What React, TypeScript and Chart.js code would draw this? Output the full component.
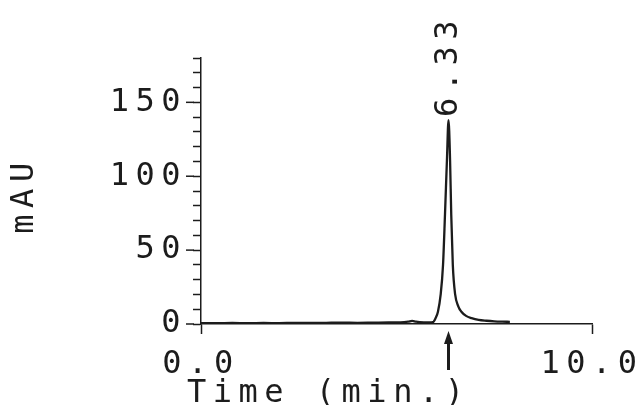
import React, { useEffect, useRef } from 'react';
import { Chart, registerables } from 'chart.js';

Chart.register(...registerables);

// Retention time (min.) and detector signal (mAU)
const times = [
  0.0, 0.4, 0.8, 1.2, 1.6, 2.0, 2.4, 2.8, 3.2, 3.6, 4.0, 4.4, 4.8, 5.1, 5.3, 5.4, 5.5,
  5.7, 5.85, 5.93, 6.0, 6.06, 6.13, 6.19, 6.24, 6.29, 6.33, 6.37, 6.4, 6.44, 6.5, 6.58,
  6.66, 6.78, 6.92, 7.1, 7.3, 7.5, 7.7, 7.9,
];
const signal = [
  0.6, 0.5, 0.7, 0.6, 0.7, 0.6, 0.8, 0.7, 0.8, 0.9, 0.8, 0.9, 1.0, 1.1, 1.6, 2.1, 1.6,
  1.1, 1.0, 1.2, 4.0, 8.3, 20, 40, 74, 111, 138, 111, 74, 40, 20, 12,
  8.3, 5.5, 4.0, 2.8, 2.2, 1.8, 1.6, 1.5,
];
const peakTime = 6.33;
const xTickValues = [0, 10];
const yMajorStep = 50;
const yMinorStep = 10;
const yMax = 180;
const xTitle = 'Time (min.)';
const yTitle = 'mAU';

const FONT_FAMILY = '"DejaVu Sans Mono", "Liberation Mono", monospace';
const FONT_SIZE = 32;
const INK = '#1c1c1c';
const SPACING = '6.5px';

const plotterPlugin = {
  id: 'plotter',
  beforeLayout(chart: any) {
    chart.ctx.letterSpacing = SPACING;
  },
  beforeDraw(chart: any) {
    chart.ctx.letterSpacing = SPACING;
    const { ctx, width, height } = chart;
    ctx.save();
    ctx.fillStyle = '#ffffff';
    ctx.fillRect(0, 0, width, height);
    ctx.restore();
  },
  afterDraw(chart: any) {
    const { ctx, chartArea, scales } = chart;
    const xs = scales.x;
    const ys = scales.y;
    ctx.save();
    ctx.letterSpacing = SPACING;
    ctx.fillStyle = INK;
    ctx.strokeStyle = INK;
    ctx.font = `${FONT_SIZE}px ${FONT_FAMILY}`;

    // longer marks for the labelled y ticks
    ctx.lineWidth = 1.5;
    for (let v = 0; v <= yMax; v += yMajorStep) {
      const py = ys.getPixelForValue(v);
      ctx.beginPath();
      ctx.moveTo(chartArea.left - 15, py);
      ctx.lineTo(chartArea.left - 7, py);
      ctx.stroke();
    }

    // retention time label above the peak
    const peakValue = Math.max(...signal);
    const px = xs.getPixelForValue(peakTime);
    const apexY = ys.getPixelForValue(peakValue);
    ctx.save();
    ctx.translate(px, apexY - 3);
    ctx.rotate(-Math.PI / 2);
    ctx.textAlign = 'left';
    ctx.textBaseline = 'middle';
    ctx.fillText(peakTime.toFixed(2), 0, 0);
    ctx.restore();

    // peak arrow under the axis
    const axisY = ys.getPixelForValue(0);
    ctx.lineWidth = 3;
    ctx.beginPath();
    ctx.moveTo(px, axisY + 46);
    ctx.lineTo(px, axisY + 18);
    ctx.stroke();
    ctx.beginPath();
    ctx.moveTo(px, axisY + 7);
    ctx.lineTo(px - 4.5, axisY + 20);
    ctx.lineTo(px + 4.5, axisY + 20);
    ctx.closePath();
    ctx.fill();

    // y axis title
    ctx.save();
    ctx.translate(25, (chartArea.top + chartArea.bottom) / 2 + 4);
    ctx.rotate(-Math.PI / 2);
    ctx.textAlign = 'center';
    ctx.textBaseline = 'middle';
    ctx.fillText(yTitle, 0, 0);
    ctx.restore();

    // x axis title
    ctx.textAlign = 'left';
    ctx.textBaseline = 'alphabetic';
    ctx.fillText(xTitle, chartArea.left - 14, chart.height - 3);

    ctx.restore();
  },
};

export default function App() {
  const canvasRef = useRef<HTMLCanvasElement | null>(null);

  useEffect(() => {
    const canvas = canvasRef.current;
    if (!canvas) return;
    const points = times.map((t, i) => ({ x: t, y: signal[i] }));
    const tickFont = { family: FONT_FAMILY, size: FONT_SIZE };

    const chart = new Chart(canvas, {
      type: 'line',
      data: {
        datasets: [
          {
            data: points,
            borderColor: INK,
            borderWidth: 2.3,
            pointRadius: 0,
            cubicInterpolationMode: 'monotone',
            fill: false,
          },
        ],
      },
      options: {
        responsive: false,
        animation: false,
        devicePixelRatio: 1,
        layout: { padding: { top: 58, right: 50, left: 0, bottom: 0 } },
        plugins: {
          legend: { display: false },
          tooltip: { enabled: false },
        },
        scales: {
          x: {
            type: 'linear',
            min: 0,
            max: 10,
            afterBuildTicks: (scale: any) => {
              scale.ticks = xTickValues.map((v) => ({ value: v }));
            },
            afterFit: (scale: any) => {
              scale.height = 81;
              scale.paddingLeft = 0;
              scale.paddingRight = 0;
            },
            ticks: {
              color: INK,
              font: tickFont,
              padding: 11,
              maxRotation: 0,
              autoSkip: false,
              callback: (v: any) => Number(v).toFixed(1),
            },
            grid: {
              drawOnChartArea: false,
              tickLength: 10,
              tickColor: INK,
              tickWidth: 1.5,
            },
            border: { color: INK, width: 1.5 },
          },
          y: {
            type: 'linear',
            min: 0,
            max: yMax,
            afterFit: (scale: any) => {
              scale.width = 201;
              scale.paddingTop = 0;
              scale.paddingBottom = 0;
            },
            ticks: {
              stepSize: yMinorStep,
              color: INK,
              font: tickFont,
              padding: 6,
              autoSkip: false,
              callback: (v: any) => (Number(v) % yMajorStep === 0 ? String(v) : ''),
            },
            grid: {
              drawOnChartArea: false,
              tickLength: 8,
              tickColor: INK,
              tickWidth: 1.5,
            },
            border: { color: INK, width: 1.5 },
          },
        },
      },
      plugins: [plotterPlugin],
    } as any);

    return () => chart.destroy();
  }, []);

  return (
    <canvas
      ref={canvasRef}
      width={642}
      height={405}
      style={{ position: 'fixed', left: 0, top: 0, width: 642, height: 405, display: 'block' }}
    />
  );
}
